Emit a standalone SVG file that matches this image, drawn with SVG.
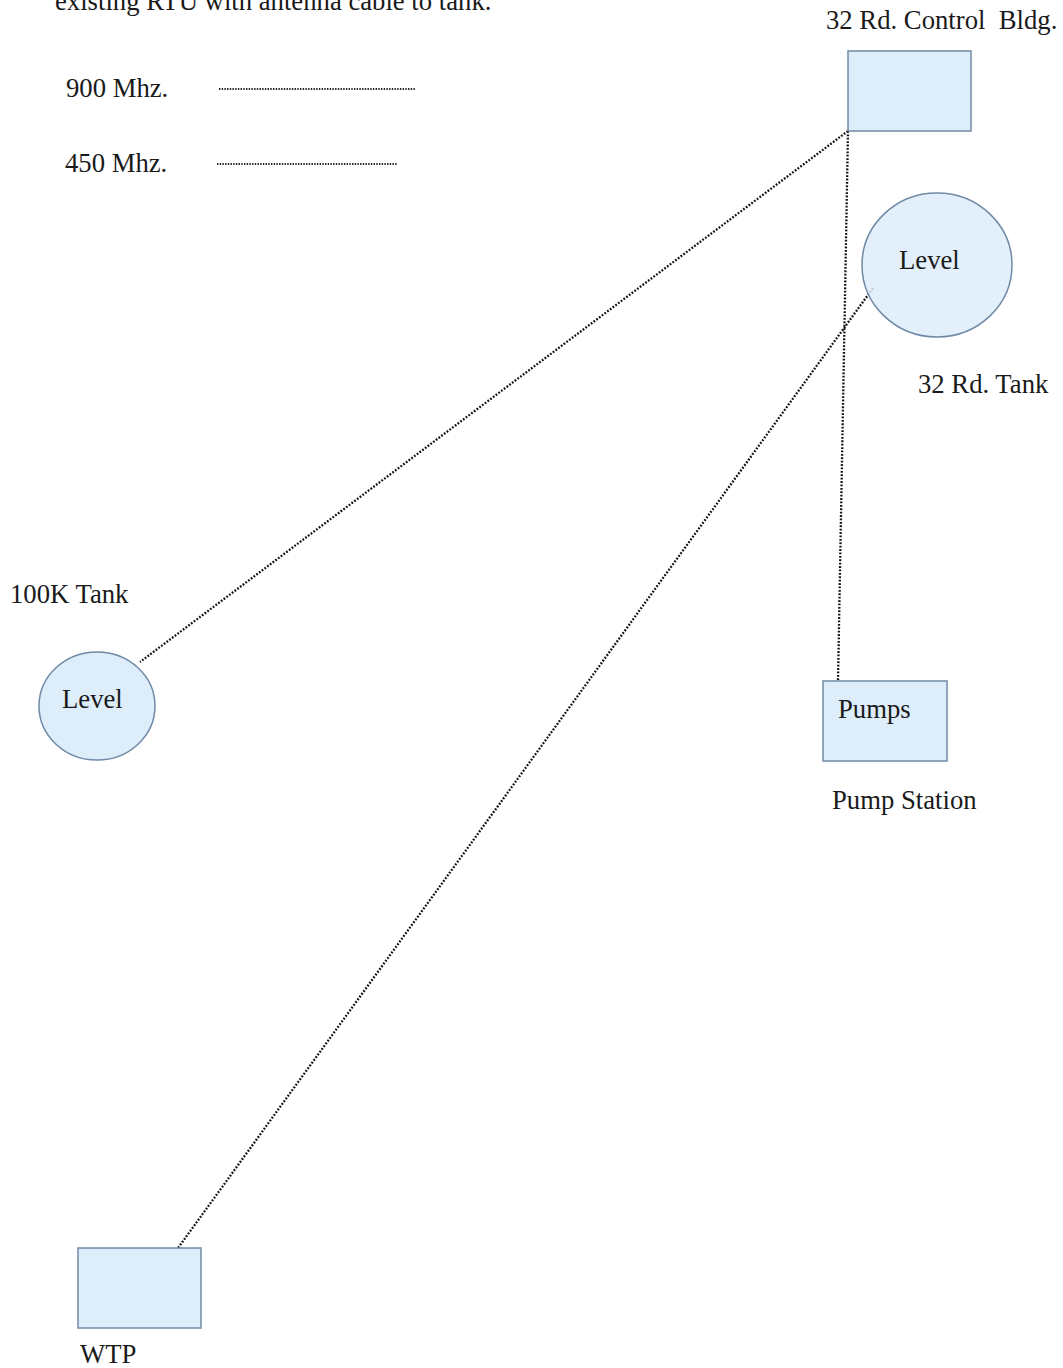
<svg xmlns="http://www.w3.org/2000/svg" width="1063" height="1368" viewBox="0 0 1063 1368">
<style>
text{font-family:"Liberation Serif","Times New Roman",serif;font-size:26.7px;fill:#1a1a1a}
.box{fill:#deedfa;stroke:#6f8aa6;stroke-width:1.5}
.dot{stroke:#111;stroke-width:2.3;stroke-dasharray:1.8 1.6;fill:none}
.leg{stroke:#222;stroke-width:1.8;stroke-dasharray:1.4 1.3;fill:none}
</style>
<rect width="1063" height="1368" fill="#fff"/>
<text x="55" y="10">existing RTU with antenna cable to tank.</text>
<g id="legend">
<text x="66" y="97">900 Mhz.</text>
<line class="leg" x1="219" y1="89" x2="415" y2="89"/>
<text x="65" y="172">450 Mhz.</text>
<line class="leg" x1="217" y1="164" x2="397" y2="164"/>
</g>
<g id="connectors">
<line class="dot" x1="848" y1="131" x2="140" y2="662"/>
<line class="dot" x1="848" y1="131" x2="838" y2="681"/>
<line class="dot" x1="873" y1="288" x2="178" y2="1248"/>
</g>
<g id="control-bldg">
<rect class="box" x="848" y="51" width="123" height="80"/>
<text x="826" y="29" xml:space="preserve">32 Rd. Control  Bldg.</text>
</g>
<g id="rd32-tank">
<ellipse class="box" cx="937" cy="265" rx="75" ry="72" fill-opacity="0.85"/>
<text x="899" y="269">Level</text>
<text x="918" y="393">32 Rd. Tank</text>
</g>
<g id="tank-100k">
<ellipse class="box" cx="97" cy="706" rx="58" ry="54"/>
<text x="62" y="708">Level</text>
<text x="10" y="603">100K Tank</text>
</g>
<g id="pump-station">
<rect class="box" x="823" y="681" width="124" height="80"/>
<text x="838" y="718">Pumps</text>
<text x="832" y="809">Pump Station</text>
</g>
<g id="wtp">
<rect class="box" x="78" y="1248" width="123" height="80"/>
<text x="80" y="1363">WTP</text>
</g>
</svg>
